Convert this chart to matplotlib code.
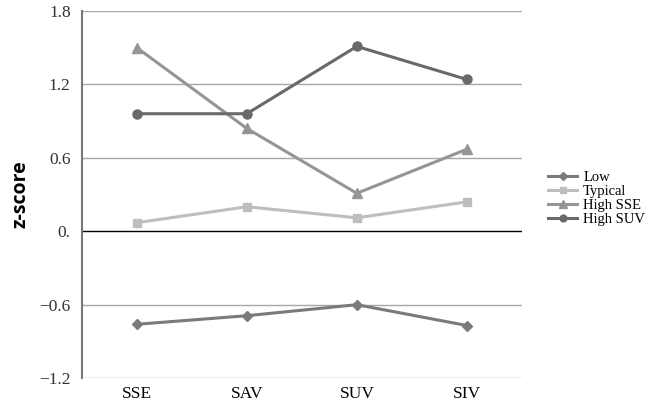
import numpy as np
import matplotlib.pyplot as plt

categories = ['SSE', 'SAV', 'SUV', 'SIV']
low = [-0.76, -0.69, -0.60, -0.77]
typical = [0.07, 0.20, 0.11, 0.24]
high_sse = [1.50, 0.84, 0.31, 0.67]
high_suv = [0.96, 0.96, 1.51, 1.24]
yticks = [-1.2, -0.6, 0.0, 0.6, 1.2, 1.8]
ytick_labels = ['\u22121.2', '\u22120.6', '0.', '0.6', '1.2', '1.8']

fig = plt.figure(figsize=(6.54, 4.04), dpi=100)
ax = fig.add_axes([0.125, 0.064, 0.673, 0.909])

x = np.arange(len(categories))
for yv in yticks:
    if yv != 0:
        ax.axhline(yv, color='#a8a8a8', lw=1.0, zorder=1)
ax.axhline(0, color='black', lw=1.0, zorder=1)

ax.plot(x, low, color='#7a7a7a', marker='D', ms=5, lw=2.2, label='Low', zorder=3)
ax.plot(x, typical, color='#bebebe', marker='s', ms=6, lw=2.2, label='Typical', zorder=3)
ax.plot(x, high_sse, color='#959595', marker='^', ms=7, lw=2.2, label='High SSE', zorder=3)
ax.plot(x, high_suv, color='#696969', marker='o', ms=6.5, lw=2.2, label='High SUV', zorder=3)

ax.set_xlim(-0.5, 3.5)
ax.set_ylim(-1.2, 1.8)
ax.set_xticks(x)
ax.set_xticklabels(categories, family='Liberation Serif', fontsize=12.5)
ax.set_yticks(yticks)
ax.set_yticklabels(ytick_labels, family='Liberation Serif', fontsize=12.5, color='#333333')
ax.tick_params(axis='y', length=0, pad=8)
ax.tick_params(axis='x', length=0, pad=6)
for s in ['top', 'right', 'bottom']:
    ax.spines[s].set_visible(False)
ax.spines['left'].set_color('#777777')
ax.spines['left'].set_linewidth(1.5)

ax.set_ylabel('z-score', family='Open Sans', fontweight='bold', fontsize=14, labelpad=6)

ax.legend(loc='center left', bbox_to_anchor=(1.03, 0.49), frameon=False,
          prop={'family': 'Liberation Serif', 'size': 10.5}, handlelength=2,
          labelspacing=0.05, handletextpad=0.4, markerscale=0.75)

fig.savefig('out.png', dpi=100)
